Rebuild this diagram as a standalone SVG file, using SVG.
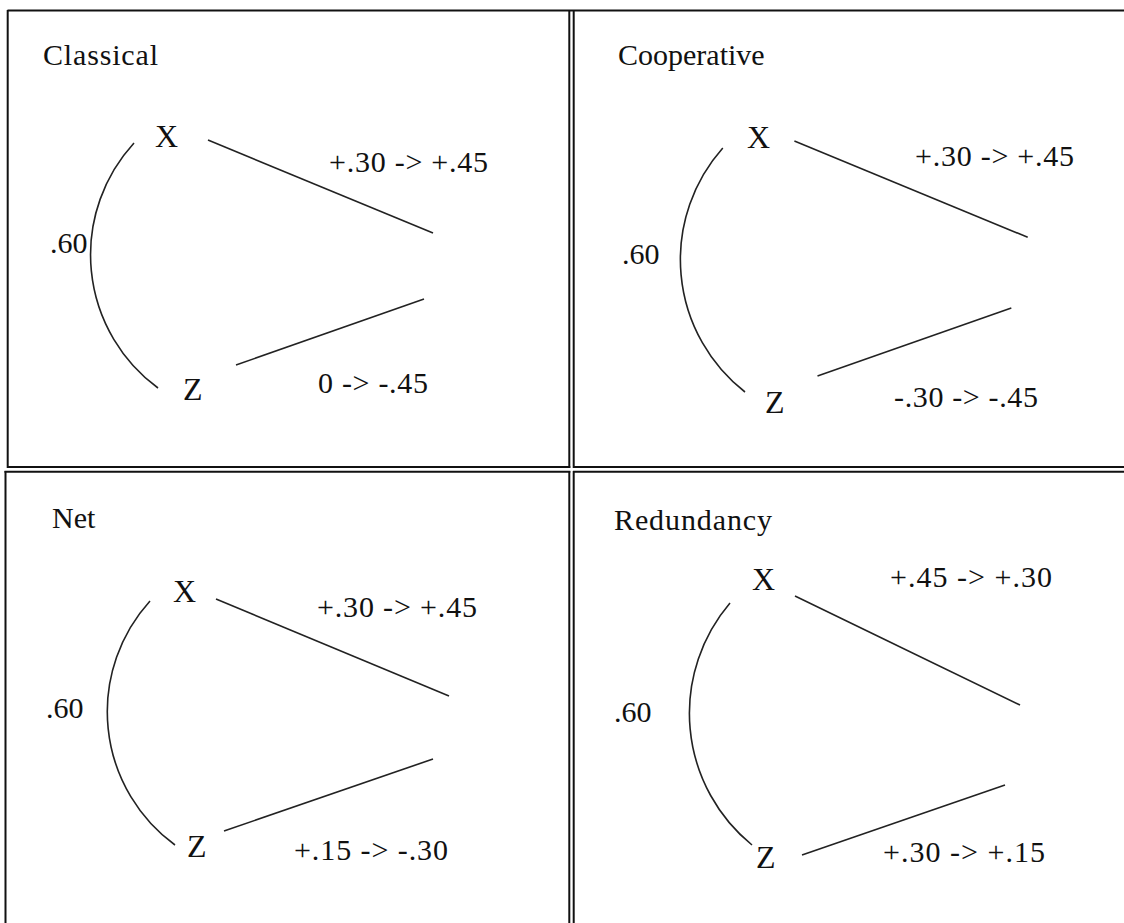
<svg xmlns="http://www.w3.org/2000/svg" width="1124" height="923" viewBox="0 0 1124 923">
<style>
.b{stroke:#111;stroke-width:2;fill:none}
.c{stroke:#222;stroke-width:1.6;fill:none}
text{font-family:"Liberation Serif","Times New Roman",serif;fill:#111}
.t{font-size:30px}
.n{font-size:32px}
.l{font-size:30px}
</style>
<rect width="1124" height="923" fill="#fff"/>
<g id="frame">
<line class="b" x1="7.5" y1="10.5" x2="1124" y2="10.5"/>
<line class="b" x1="7.7" y1="10" x2="7.7" y2="468"/>
<line class="b" x1="7" y1="467" x2="570.3" y2="467"/>
<line class="b" x1="569.3" y1="10" x2="569.3" y2="468"/>
<line class="b" x1="573.7" y1="10" x2="573.7" y2="468"/>
<line class="b" x1="573" y1="467" x2="1124" y2="467"/>
<line class="b" x1="4.5" y1="471.7" x2="570.3" y2="471.7"/>
<line class="b" x1="5.5" y1="471" x2="5.5" y2="923"/>
<line class="b" x1="569.3" y1="471" x2="569.3" y2="923"/>
<line class="b" x1="573.7" y1="471" x2="573.7" y2="923"/>
<line class="b" x1="573" y1="471.7" x2="1124" y2="471.7"/>
</g>
<g id="connectors">
<path class="c" d="M134,143 A165.4,165.4 0 0 0 158,388"/>
<line class="c" x1="208" y1="140" x2="433" y2="233"/>
<line class="c" x1="236" y1="365" x2="424" y2="299"/>
<path class="c" d="M722.8,148 A168,168 0 0 0 745,392"/>
<line class="c" x1="794.4" y1="141" x2="1027.7" y2="237.3"/>
<line class="c" x1="817.5" y1="376" x2="1011.3" y2="308"/>
<path class="c" d="M150,601 A165,165 0 0 0 175,845"/>
<line class="c" x1="216" y1="599" x2="449" y2="696"/>
<line class="c" x1="224" y1="831" x2="433" y2="759"/>
<path class="c" d="M730,603 A170,170 0 0 0 752,845"/>
<line class="c" x1="795" y1="596" x2="1020" y2="705"/>
<line class="c" x1="802" y1="855" x2="1005" y2="785"/>
</g>
<g id="panel-classical">
<text class="t" x="43" y="65" textLength="115">Classical</text>
<text class="n" x="155" y="147">X</text>
<text class="n" x="183" y="400">Z</text>
<text class="l" x="50" y="253">.60</text>
<text class="l" x="329" y="172" textLength="159">+.30 -&gt; +.45</text>
<text class="l" x="318" y="393" textLength="110">0 -&gt; -.45</text>
</g>
<g id="panel-cooperative">
<text class="t" x="618" y="65">Cooperative</text>
<text class="n" x="747" y="148">X</text>
<text class="n" x="765" y="413">Z</text>
<text class="l" x="622" y="264">.60</text>
<text class="l" x="915" y="166" textLength="159">+.30 -&gt; +.45</text>
<text class="l" x="894" y="407" textLength="144">-.30 -&gt; -.45</text>
</g>
<g id="panel-net">
<text class="t" x="52" y="528">Net</text>
<text class="n" x="173" y="602">X</text>
<text class="n" x="187" y="857">Z</text>
<text class="l" x="46" y="718">.60</text>
<text class="l" x="317" y="617" textLength="160">+.30 -&gt; +.45</text>
<text class="l" x="294" y="860" textLength="154">+.15 -&gt; -.30</text>
</g>
<g id="panel-redundancy">
<text class="t" x="614" y="530" textLength="158">Redundancy</text>
<text class="n" x="752" y="590">X</text>
<text class="n" x="756" y="868">Z</text>
<text class="l" x="614" y="722">.60</text>
<text class="l" x="890" y="587" textLength="162">+.45 -&gt; +.30</text>
<text class="l" x="883" y="862" textLength="162">+.30 -&gt; +.15</text>
</g>
</svg>
